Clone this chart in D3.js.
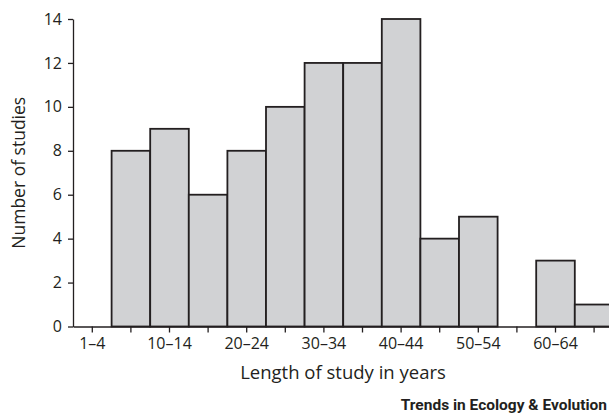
<!DOCTYPE html>
<html>
<head>
<meta charset="utf-8">
<script src="https://cdn.jsdelivr.net/npm/d3@7"></script>
<style>
  body { margin: 0; background: #fff; }
  svg text { font-family: "Open Sans", Lato, sans-serif; fill: #231f20; }
  .tick line, .domain { stroke: #231f20; stroke-width: 1.3; }
  .credit { font-family: Roboto, Arial, sans-serif; font-weight: bold; }
</style>
</head>
<body>
<svg width="609" height="414"></svg>
<script>
  // length-of-study bins and number of studies per bin
  const categories = ['1–4', '5–9', '10–14', '15–19', '20–24', '25–29', '30–34',
    '35–39', '40–44', '45–49', '50–54', '55–59', '60–64', '65–69'];
  const counts = [0, 8, 9, 6, 8, 10, 12, 12, 14, 4, 5, 0, 3, 1];
  const yTicks = [0, 2, 4, 6, 8, 10, 12, 14];
  const shownLabels = ['1–4', '10–14', '20–24', '30–34', '40–44', '50–54', '60–64'];

  const svg = d3.select('svg');
  const margin = {top: 19, left: 73};
  const innerHeight = 307.5;
  const step = 38.6;

  const data = categories.map((c, i) => ({cat: c, value: counts[i]}));

  const xScale = d3.scaleBand()
    .domain(categories)
    .range([0, step * categories.length])
    .padding(0);

  const yScale = d3.scaleLinear()
    .domain([0, 14])
    .range([innerHeight, 0]);

  const g = svg.append('g')
    .attr('transform', `translate(${margin.left}, ${margin.top})`);

  g.selectAll('rect').data(data.filter(d => d.value > 0))
    .enter().append('rect')
      .attr('x', d => xScale(d.cat))
      .attr('y', d => yScale(d.value))
      .attr('width', xScale.bandwidth())
      .attr('height', d => innerHeight - yScale(d.value))
      .attr('fill', '#d1d2d4')
      .attr('stroke', '#231f20')
      .attr('stroke-width', 1.8);

  const xAxis = d3.axisBottom(xScale)
    .tickSize(6)
    .tickSizeOuter(0)
    .tickPadding(5)
    .tickFormat(d => shownLabels.includes(d) ? d : '');

  const xAxisG = g.append('g')
    .attr('transform', `translate(0, ${innerHeight})`)
    .call(xAxis);
  xAxisG.selectAll('.tick text')
    .filter(d => !shownLabels.includes(d))
    .remove();
  xAxisG.selectAll('.tick text').style('font-size', '16px');
  xAxisG.append('text')
    .attr('x', 270)
    .attr('y', 52)
    .attr('text-anchor', 'middle')
    .style('font-size', '18.5px')
    .text('Length of study in years');

  const yAxis = d3.axisLeft(yScale)
    .tickValues(yTicks)
    .tickSize(5)
    .tickSizeOuter(0)
    .tickPadding(6);

  const yAxisG = g.append('g').call(yAxis);
  yAxisG.selectAll('.tick text').style('font-size', '16px');
  yAxisG.append('text')
    .attr('transform', `rotate(-90)`)
    .attr('x', -innerHeight / 2)
    .attr('y', -48)
    .attr('text-anchor', 'middle')
    .style('font-size', '17.5px')
    .text('Number of studies');

  svg.append('text')
    .attr('class', 'credit')
    .attr('x', 607)
    .attr('y', 410)
    .attr('text-anchor', 'end')
    .style('font-size', '15.5px')
    .text('Trends in Ecology & Evolution');
</script>
</body>
</html>
